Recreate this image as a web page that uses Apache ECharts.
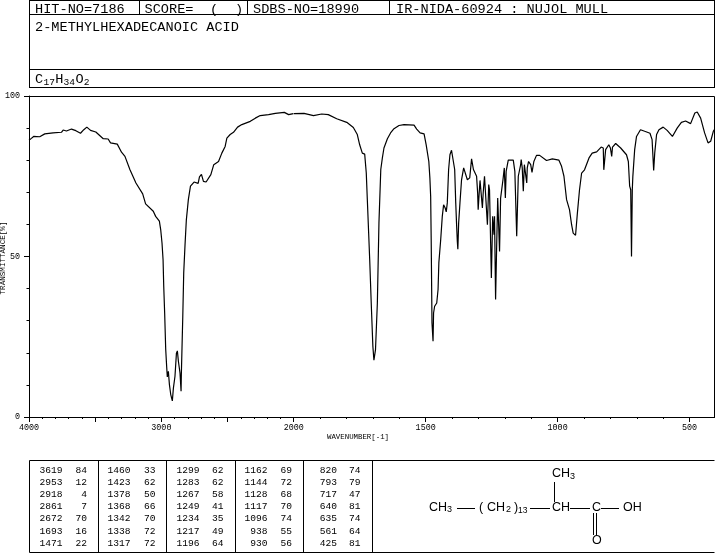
<!DOCTYPE html>
<html>
<head>
<meta charset="utf-8">
<style>html,body{margin:0;padding:0;background:#fff}#c{width:715px;height:553px}</style>
<script src="https://cdn.jsdelivr.net/npm/echarts@6/dist/echarts.min.js"></script>
</head>
<body>
<div id="c"></div>
<script>
// Spectrum, wavenumber range 4000-2000 (compressed scale)
const waveHigh = [4000,3982,3965,3919,3881,3818,3755,3742,3717,3679,3646,3611,3586,3563,3535,3495,3439,3402,3384,3333,3301,3275,3237,3192,3141,3119,3061,3046,3043,3015,3005,2995,2987,2982,2975,2967,2960,2955,2947,2939,2929,2917,2909,2897,2886,2879,2871,2864,2859,2851,2849,2843,2838,2831,2821,2811,2796,2780,2753,2722,2712,2697,2682,2662,2626,2604,2568,2543,2518,2505,2480,2455,2424,2392,2328,2290,2253,2190,2139,2071,2038,2003,2000];
const transHigh = [86.2,86.8,87.4,87.3,88.2,88.5,88.7,89.4,89.1,89.7,89.2,88.4,89.5,90.3,89.3,88.8,86.7,86.6,85.4,85.0,82.5,81.2,77.0,72.9,69.5,66.4,64.1,63.8,62.5,61.0,58.4,54.2,49.0,40.7,32.4,21.0,15.8,12.5,14.2,10.1,7.0,5.0,9.0,12.7,19.9,20.6,17.3,16.8,13.7,8.0,13.2,13.2,31.4,44.9,53.7,61.5,67.7,71.9,73.2,72.8,74.8,75.6,73.4,73.2,75.5,78.6,79.6,82.2,84.3,86.9,88.0,88.7,90.3,91.1,92.1,93.1,93.9,94.2,94.6,94.9,94.2,94.5,94.5];
// Spectrum, wavenumber range 2000-404 (expanded scale)
const waveLow = [2000,1961,1925,1894,1869,1837,1799,1774,1759,1750,1746,1740,1731,1725,1721,1716,1712,1706,1700,1696,1692,1690,1683,1677,1670,1664,1658,1645,1633,1620,1601,1582,1544,1534,1521,1506,1498,1488,1484,1481,1479,1476,1472,1470,1466,1458,1453,1450,1443,1437,1432,1426,1422,1418,1413,1408,1402,1395,1390,1386,1383,1380,1378,1375,1370,1364,1356,1349,1342,1333,1326,1319,1313,1307,1303,1301,1298,1294,1288,1285,1282,1277,1272,1266,1261,1258,1251,1249,1246,1242,1241,1239,1235,1232,1227,1224,1220,1216,1207,1202,1198,1195,1187,1168,1162,1155,1153,1149,1140,1138,1134,1130,1126,1121,1117,1115,1110,1102,1097,1090,1080,1068,1042,1020,995,985,976,966,955,947,941,932,925,917,909,898,881,869,852,835,827,825,822,818,806,800,795,792,780,761,739,732,727,723,720,717,715,708,701,686,670,650,642,636,632,625,616,600,585,565,547,531,515,496,480,471,458,443,430,420,410,404];
const transLow = [94.5,94.6,93.9,94.4,94.2,92.9,91.8,90.2,88.0,84.8,84.8,82.2,81.9,76.0,67.7,57.3,49.0,35.0,22.0,17.7,17.3,21.0,35.5,60.4,77.1,80.7,83.8,86.7,88.5,89.8,90.8,91.1,90.9,89.7,88.5,88.2,84.8,79.6,74.5,68.7,55.2,29.3,23.6,32.4,34.5,35.5,39.7,48.0,55.2,62.5,66.1,65.1,63.9,66.7,77.1,81.7,83.1,83.0,77.1,66.7,60.4,54.7,52.3,60.4,66.7,73.9,77.6,77.6,73.9,74.5,80.4,77.1,77.6,75.0,69.8,64.6,68.7,73.7,73.7,65.1,69.8,75.0,75.2,59.9,72.4,70.8,43.3,42.8,62.5,62.5,56.8,62.5,36.6,49.0,68.2,68.2,51.6,68.2,73.9,77.6,68.2,76.5,80.0,80.0,76.5,56.3,56.3,75.0,78.6,80.2,77.6,70.3,78.6,78.0,72.9,77.6,79.6,78.6,76.2,79.6,81.5,81.5,79.9,80.4,80.0,78.1,75.0,67.7,64.6,59.9,57.3,56.6,63.6,70.8,76.0,77.0,80.7,82.2,82.6,84.1,83.8,77.0,77.0,83.3,84.8,83.8,81.2,84.1,85.2,83.8,81.7,79.6,71.9,70.8,50.0,70.8,74.8,83.3,87.4,89.5,89.0,88.4,86.4,76.8,82.2,88.0,89.5,90.3,89.3,87.4,90.0,91.8,92.2,91.4,94.7,95.0,93.1,88.5,85.4,85.9,89.0,89.8];

// Axis ticks and labels
const highLabels = [4000,3000,2000];
const lowMajorTicks = [1500,1000,500];
const lowMinorTicks = [1900,1800,1700,1600,1400,1300,1200,1100,900,800,700,600];
const yLabels = [0,50,100];

// Header texts
const hitText = 'HIT-NO=7186';
const scoreText = 'SCORE=';
const sdbsText = 'SDBS-NO=18990';
const irText = 'IR-NIDA-60924 : NUJOL MULL';
const nameText = '2-METHYLHEXADECANOIC ACID';
const formulaParts = [['C',0],['17',1],['H',0],['34',1],['O',0],['2',1]];
const xTitle = 'WAVENUMBER[-1]';
const yTitle = 'TRANSMITTANCE[%]';

// Peak table columns
const peakWaves = [
  ['3619','2953','2918','2861','2672','1693','1471'],
  ['1460','1423','1378','1368','1342','1338','1317'],
  ['1299','1283','1267','1249','1234','1217','1196'],
  ['1162','1144','1128','1117','1096','938','930'],
  ['820','793','717','640','635','561','425']
];
const peakTrans = [
  ['84','12','4','7','70','16','22'],
  ['33','62','50','66','70','72','72'],
  ['62','62','58','41','35','49','64'],
  ['69','72','68','70','74','55','56'],
  ['74','79','47','81','74','64','81']
];

const MONO = '"Liberation Mono", monospace';
const SANS = '"Liberation Sans", sans-serif';
const g = [];
function line(x1,y1,x2,y2){g.push({type:'line',silent:true,shape:{x1,y1,x2,y2},style:{stroke:'#000',lineWidth:1}});}
function text(x,y,t,size,opt){g.push(Object.assign({type:'text',silent:true,x,y,style:{text:t,font:size+'px '+((opt&&opt.family)||MONO),fill:'#000',textAlign:(opt&&opt.align)||'left',textVerticalAlign:'middle'}},opt&&opt.el));}

// Header frame
line(29.5,0.5,714.5,0.5);line(29.5,14.5,714.5,14.5);line(29.5,69.5,714.5,69.5);line(29.5,87.5,714.5,87.5);
line(29.5,0,29.5,88);line(714.5,0,714.5,88);
line(139.5,0,139.5,15);line(247.5,0,247.5,15);line(389.5,0,389.5,15);
text(35,9,hitText,13.6);text(144.5,9,scoreText,13.6);text(210,9,'(',13.6);text(235,9,')',13.6);text(253,9,sdbsText,13.6);text(396,9,irText,13.6);
text(35,27.5,nameText,13.6);
let fx=35;
formulaParts.forEach(p=>{
  if(p[1]){text(fx,82.5,p[0],9.6);fx+=p[0].length*5.9;}
  else{text(fx,79,p[0],13.6);fx+=8.4;}
});

// Plot frame (top and right)
line(29.5,96.5,714.5,96.5);line(714.5,96.5,714.5,417.5);
text(358,437,xTitle,7.4,{align:'center'});
g.push({type:'text',silent:true,x:3,y:258,rotation:Math.PI/2,style:{text:yTitle,font:'7.6px '+MONO,fill:'#000',textAlign:'center',textVerticalAlign:'middle'}});

// Peak table frame
line(29.5,460.5,714.5,460.5);line(29.5,552.5,714.5,552.5);
[29.5,98.5,166.5,235.5,303.5,372.5].forEach(x=>line(x,460.5,x,552.5));
const rowY=[470,482,494.3,506.5,518.8,531.2,543.7];
const colWaveRight=[62.5,130.5,199.5,267.5,337];
const colTransRight=[87,155.5,223.5,292,360.5];
peakWaves.forEach((col,i)=>col.forEach((v,r)=>{
  text(colWaveRight[i],rowY[r],v,9.6,{align:'right'});
  text(colTransRight[i],rowY[r],peakTrans[i][r],9.6,{align:'right'});
}));

// Structure
const S={family:SANS};
text(429,507.5,'CH',12.5,S);text(447,510,'3',9,S);
line(457,508.5,475,508.5);
text(479,507.5,'(',12.5,S);text(487,507.5,'CH',12.5,S);text(506,510,'2',9,S);
text(514,507.5,')',12.5,S);text(518,511,'13',8.5,S);
line(530,508.5,550,508.5);
text(552,507.5,'CH',12.5,S);
line(570,508.5,590,508.5);
text(592,507.5,'C',12.5,S);
line(601,508.5,619,508.5);
text(623,507.5,'OH',12.5,S);
line(554.5,482,554.5,502);
text(552,474,'CH',12.5,S);text(570,477,'3',9,S);
line(593.5,513,593.5,535);line(596.5,513,596.5,535);
text(592,540.5,'O',12.5,S);

const plain=v=>String(v);
const sparseAxisBase={
  type:'value',axisLine:{show:true,lineStyle:{color:'#000',width:1}},
  splitLine:{show:false},
  axisLabel:{color:'#000',fontFamily:MONO,fontSize:8.4,margin:7,formatter:plain,showMinLabel:true,showMaxLabel:true}
};
const option={
  animation:false,
  backgroundColor:'#fff',
  graphic:g,
  grid:[
    {left:29,top:96,width:264.7,height:321,containLabel:false},
    {left:293.7,top:96,width:421.2,height:321,containLabel:false}
  ],
  xAxis:[
    Object.assign({},sparseAxisBase,{gridIndex:0,inverse:true,min:2000,max:4000,interval:500,
      axisTick:{show:true,length:5,inside:false,lineStyle:{color:'#000'}},
      minorTick:{show:true,splitNumber:5,length:2,lineStyle:{color:'#000'}},
      axisLabel:Object.assign({},sparseAxisBase.axisLabel,{customValues:highLabels})
    }),
    Object.assign({},sparseAxisBase,{gridIndex:1,inverse:true,min:404,max:2000,
      axisTick:{show:true,length:5,customValues:lowMajorTicks,lineStyle:{color:'#000'}},
      axisLabel:Object.assign({},sparseAxisBase.axisLabel,{customValues:lowMajorTicks})
    }),
    {type:'value',gridIndex:1,inverse:true,min:404,max:2000,position:'bottom',
      axisLine:{show:false},splitLine:{show:false},axisLabel:{show:false},
      axisTick:{show:true,length:2,customValues:lowMinorTicks,lineStyle:{color:'#000'}}
    }
  ],
  yAxis:[
    Object.assign({},sparseAxisBase,{gridIndex:0,min:0,max:100,interval:50,
      axisTick:{show:true,length:5,lineStyle:{color:'#000'}},
      minorTick:{show:true,splitNumber:5,length:2.5,lineStyle:{color:'#000'}},
      axisLabel:Object.assign({},sparseAxisBase.axisLabel,{customValues:yLabels,margin:9})
    }),
    {type:'value',gridIndex:1,min:0,max:100,show:false}
  ],
  series:[
    {type:'line',xAxisIndex:0,yAxisIndex:0,showSymbol:false,silent:true,
      data:waveHigh.map((w,i)=>[w,transHigh[i]]),lineStyle:{color:'#000',width:1.2}},
    {type:'line',xAxisIndex:1,yAxisIndex:1,showSymbol:false,silent:true,
      data:waveLow.map((w,i)=>[w,transLow[i]]),lineStyle:{color:'#000',width:1.2}}
  ]
};
const chart=echarts.init(document.getElementById('c'),null,{renderer:'canvas'});
chart.setOption(option);
</script>
</body>
</html>
